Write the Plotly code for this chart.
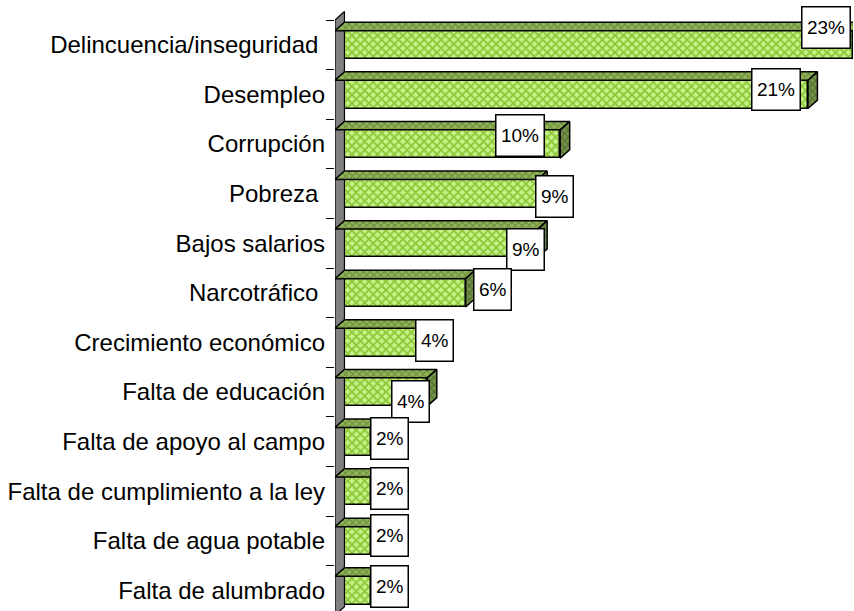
import plotly.graph_objects as go

# ---------------- data ----------------
CATEGORIES = [
    "Delincuencia/inseguridad\u00a0",
    "Desempleo",
    "Corrupción",
    "Pobreza\u00a0",
    "Bajos salarios",
    "Narcotráfico\u00a0",
    "Crecimiento económico",
    "Falta de educación",
    "Falta de apoyo al campo",
    "Falta de cumplimiento a la ley",
    "Falta de agua potable",
    "Falta de alumbrado",
]
VALUES = [23.0, 21.0, 10.0, 9.0, 9.0, 5.8, 3.7, 4.1, 1.6, 1.6, 1.6, 1.6]
LABELS = ["23%", "21%", "10%", "9%", "9%", "6%", "4%", "4%", "2%", "2%", "2%", "2%"]

# ---------------- style ----------------
BAR_W = 0.57      # bar thickness (category units)
DX = 0.42         # 3-D depth, x units
DY = 0.17         # 3-D depth, category units
LABEL_SHIFT = [(-27, 17), (-32, 4.5), (-40, 8.5), (16.5, -2.5), (-12.5, -6.5),
               (27, 3.5), (16, 2), (-17, -9.5), (18, 3), (18, 3), (18, 5), (18, 4)]
FONT = "Liberation Sans, Arial, sans-serif"

n = len(CATEGORIES)
pos = list(range(n))
h = BAR_W / 2

fig = go.Figure()

# side wall
fig.add_trace(go.Scatter(
    x=[0, DX, DX, 0, 0],
    y=[-0.5, -0.5 - DY, n - 0.5 - DY, n - 0.5, -0.5],
    mode="lines", fill="toself", fillcolor="#808080",
    line=dict(color="black", width=1.2), hoverinfo="skip", showlegend=False))

# front faces
fig.add_trace(go.Bar(
    x=VALUES, y=pos, orientation="h", width=BAR_W,
    marker=dict(color="#B8EA6E", line=dict(color="black", width=1.5),
                pattern=dict(shape="x", fgcolor="#8CC436", bgcolor="#C4F388",
                             size=6, solidity=0.5, fillmode="replace")),
    hoverinfo="skip", showlegend=False))

# top faces
tx, ty = [], []
for i, v in zip(pos, VALUES):
    tx += [0, v, v + DX, DX, 0, None]
    ty += [i - h, i - h, i - h - DY, i - h - DY, i - h, None]
fig.add_trace(go.Scatter(
    x=tx, y=ty, mode="lines", fill="toself", fillcolor="#8AAB52",
    fillpattern=dict(shape="x", fgcolor="#6A8C3C", bgcolor="#93B55A",
                     size=5, solidity=0.4, fillmode="replace"),
    line=dict(color="black", width=1.5), hoverinfo="skip", showlegend=False))

# right faces
sx, sy = [], []
for i, v in zip(pos, VALUES):
    sx += [v, v + DX, v + DX, v, v, None]
    sy += [i - h, i - h - DY, i + h - DY, i + h, i - h, None]
fig.add_trace(go.Scatter(
    x=sx, y=sy, mode="lines", fill="toself", fillcolor="#6E8D40",
    fillpattern=dict(shape="x", fgcolor="#546D30", bgcolor="#74944A",
                     size=5, solidity=0.4, fillmode="replace"),
    line=dict(color="black", width=1.5), hoverinfo="skip", showlegend=False))

# value labels
for i, v, lab, (xs, ys) in zip(pos, VALUES, LABELS, LABEL_SHIFT):
    digits = len(lab) - 1
    w = 19 * (0.556 * digits + 0.889) + 7
    fig.add_annotation(
        x=v, y=i, xref="x", yref="y", text=lab, showarrow=False,
        xshift=xs, yshift=ys, width=w, height=38,
        bgcolor="white", bordercolor="black", borderwidth=1.5, borderpad=1,
        font=dict(family=FONT, size=19, color="black"))

fig.update_layout(
    width=854, height=611,
    margin=dict(l=335, r=1, t=10, b=0, autoexpand=False),
    plot_bgcolor="white", paper_bgcolor="white",
    bargap=0, showlegend=False,
    xaxis=dict(range=[0, 23], visible=False, fixedrange=True, automargin=False),
    yaxis=dict(
        range=[n - 0.5 - 0.085, -0.5 - 10 / 49.6],
        tickmode="array", tickvals=pos, ticktext=CATEGORIES,
        ticks="", showgrid=False, zeroline=False, showline=False,
        ticklabelstandoff=9, automargin=False,
        tickfont=dict(family=FONT, size=24, color="black"),
        minor=dict(tickmode="array", tickvals=[k - 0.5 for k in range(n + 1)],
                   ticks="outside", ticklen=8, tickcolor="black", tickwidth=1.2,
                   showgrid=False),
        fixedrange=True),
)

fig.write_html("out.html", config={"displayModeBar": False},
               post_script="document.body.style.margin='0';document.body.style.overflow='hidden';")
